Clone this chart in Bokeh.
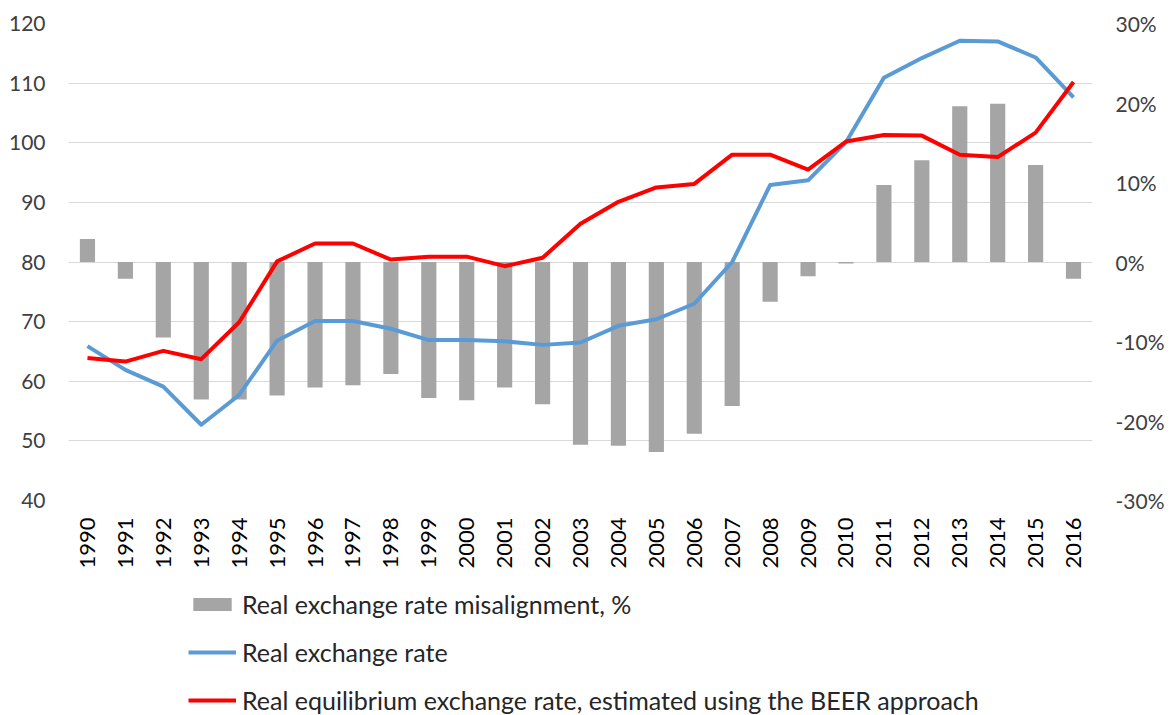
from bokeh.plotting import figure
from bokeh.models import (ColumnDataSource, Range1d, LinearAxis, FixedTicker,
                          PrintfTickFormatter, Legend, LegendItem, FactorRange)
from bokeh.layouts import column
from bokeh.embed import file_html
from bokeh.resources import INLINE
import math

years = [str(y) for y in range(1990, 2017)]
misalignment = [2.9, -2.1, -9.5, -17.3, -17.3, -16.8, -15.8, -15.5, -14.1, -17.1,
                -17.4, -15.8, -17.9, -23.0, -23.1, -23.9, -21.6, -18.1, -5.0, -1.8,
                -0.2, 9.7, 12.8, 19.6, 19.9, 12.2, -2.1]
real_rate = [65.9, 61.9, 59.1, 52.7, 57.7, 66.8, 70.1, 70.1, 68.8, 66.9,
             66.9, 66.7, 66.1, 66.5, 69.3, 70.4, 73.0, 80.0, 92.9, 93.7,
             100.1, 110.9, 114.2, 117.1, 117.0, 114.3, 107.6]
equilibrium = [63.9, 63.3, 65.1, 63.7, 69.9, 80.1, 83.1, 83.1, 80.4, 80.9,
               80.9, 79.3, 80.7, 86.4, 90.1, 92.5, 93.1, 98.0, 98.0, 95.5,
               100.2, 101.3, 101.2, 98.0, 97.6, 101.7, 110.2]
left_ticks = [40, 50, 60, 70, 80, 90, 100, 110, 120]
right_ticks = [-30, -20, -10, 0, 10, 20, 30]
series_names = ["Real exchange rate misalignment, %",
                "Real exchange rate",
                "Real equilibrium exchange rate, estimated using the BEER approach"]

FONT = "Lato"
TXT = "#404040"
BAR_C, RER_C, EQ_C = "#A5A5A5", "#5B9BD5", "#FF0000"
W = 1173

src = ColumnDataSource(dict(year=years, mis=misalignment, rer=real_rate, eq=equilibrium))

p = figure(width=W, height=580, x_range=FactorRange(*years), y_range=Range1d(40, 120),
           output_backend="svg", toolbar_location=None,
           min_border_left=68, min_border_right=81, min_border_top=23,
           min_border_bottom=80)
p.outline_line_color = None
p.extra_y_ranges = {"pct": Range1d(-30, 30)}

p.vbar(x="year", top="mis", width=0.4, y_range_name="pct", source=src,
       fill_color=BAR_C, line_color=None)
p.line(x="year", y="rer", source=src, line_color=RER_C, line_width=4, line_join="round")
p.line(x="year", y="eq", source=src, line_color=EQ_C, line_width=4, line_join="round")

ya = p.yaxis[0]
ya.ticker = FixedTicker(ticks=left_ticks)
ya.axis_line_color = None
ya.major_tick_line_color = None
ya.minor_tick_line_color = None
ya.major_label_text_font = FONT
ya.major_label_text_font_size = "21px"
ya.major_label_text_color = TXT
ya.major_label_standoff = 17

p.ygrid.ticker = FixedTicker(ticks=left_ticks)
p.ygrid.grid_line_color = "#D9D9D9"
p.xgrid.grid_line_color = None

ra = LinearAxis(y_range_name="pct", ticker=FixedTicker(ticks=right_ticks),
                formatter=PrintfTickFormatter(format="%d%%"))
ra.axis_line_color = None
ra.major_tick_line_color = None
ra.minor_tick_line_color = None
ra.major_label_text_font = FONT
ra.major_label_text_font_size = "21px"
ra.major_label_text_color = TXT
ra.major_label_standoff = 17
p.add_layout(ra, "right")

xa = p.xaxis[0]
xa.axis_line_color = None
xa.major_tick_line_color = None
xa.minor_tick_line_color = None
xa.major_label_orientation = math.pi / 2
xa.major_label_text_font = FONT
xa.major_label_text_font_size = "22px"
xa.major_label_text_color = "#000000"
xa.major_label_standoff = 11

# legend strip below the chart (dummy renderers lie outside its visible range)
p2 = figure(width=W, height=135, x_range=Range1d(0, 1), y_range=Range1d(0, 1),
            output_backend="svg", toolbar_location=None,
            x_axis_location=None, y_axis_location=None, min_border=0)
p2.outline_line_color = None
p2.xgrid.grid_line_color = None
p2.ygrid.grid_line_color = None
r_bar = p2.vbar(x=[50], top=[60], bottom=[50], width=0.1, fill_color=BAR_C, line_color=None)
r_rer = p2.line(x=[50, 51], y=[50, 50], line_color=RER_C, line_width=4)
r_eq = p2.line(x=[50, 51], y=[50, 50], line_color=EQ_C, line_width=4)

legend = Legend(items=[
    LegendItem(label=series_names[0], renderers=[r_bar]),
    LegendItem(label=series_names[1], renderers=[r_rer]),
    LegendItem(label=series_names[2], renderers=[r_eq]),
], location=(120, 0), orientation="vertical")
legend.border_line_color = None
legend.background_fill_alpha = 0
legend.label_text_font = FONT
legend.label_text_font_size = "25px"
legend.label_text_color = "#262626"
legend.glyph_width = 48
legend.glyph_height = 16
legend.label_height = 25
legend.label_standoff = 6
legend.spacing = 18
legend.padding = 0
legend.margin = 0
p2.add_layout(legend, "center")

open("out.html", "w").write(file_html(column(p, p2, spacing=0), INLINE))
